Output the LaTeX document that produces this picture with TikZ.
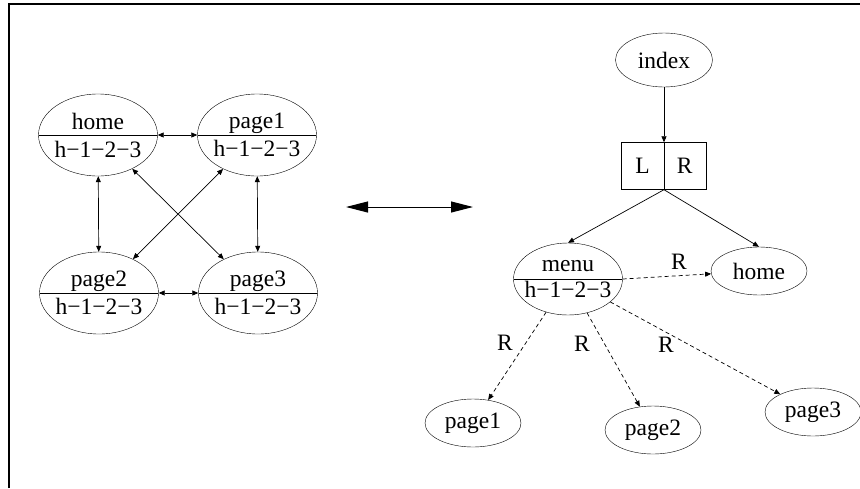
\documentclass[tikz,border=0pt]{standalone}
\usepackage{fontspec}
\setmainfont{Liberation Serif}
\usetikzlibrary{positioning,
        shapes,
        arrows.meta}

\begin{document}
\begin{tikzpicture}[x=1pt,y=-1pt,
        every node/.style={font=\fontsize{23.5}{25}\selectfont},
        page/.style={ellipse,draw,inner sep=0pt,minimum width=96pt,minimum height=48pt},
        split/.style={ellipse,draw,inner ysep=0pt,inner xsep=-7pt,align=center,minimum width=119pt,minimum height=82pt,
                path picture={\draw (path picture bounding box.west) -- (path picture bounding box.east);}},
        tip/.style={-{Triangle[length=6pt,width=5pt]},line width=0.7pt},
        tips/.style={{Triangle[length=6pt,width=5pt]}-{Triangle[length=6pt,width=5pt]},line width=0.7pt},
        dash line/.style={tip,dash pattern=on 4pt off 3pt},
        lab/.style={inner sep=0pt}]
        \useasboundingbox (0,0) rectangle (860,488);
        \draw[line width=1.8pt] (9,488) -- (9,4) -- (860,4);

        \node [split] (home) at (98,135) {home\\[3pt]h−1−2−3};
        \node [split] (page1) at (257,135) {page1\\[3pt]h−1−2−3};
        \node [split] (page2) at (99,293) {page2\\[3pt]h−1−2−3};
        \node [split] (page3) at (258,293) {page3\\[3pt]h−1−2−3};

        \draw[tips] (home) -- (page1);
        \draw[tips] (page2) -- (page3);
        \draw[tips] (home) -- (page2);
        \draw[tips] (page1) -- (page3);
        \draw[tips] (home) -- (page3);
        \draw[tips] (page1) -- (page2);

        \coordinate (from) at (346,207);
        \coordinate (to) at (473,207);
        \draw[{Triangle[length=22pt,width=11pt]}-{Triangle[length=22pt,width=11pt]},line width=1pt] (from) -- (to);

        \node [page,minimum width=97pt,minimum height=54pt] (index) at (664,60) {index};
        \node [draw,inner sep=0pt,minimum width=85pt,minimum height=47pt,
                path picture={\draw (path picture bounding box.north) -- (path picture bounding box.south);}]
                (lr) at (664,166) {L\hspace{27pt}R};
        \node [split,minimum width=109pt,minimum height=72pt] (menu) at (568,279) {menu\\[1pt]h−1−2−3};
        \node [page] (hm) at (759,271) {home};
        \node [page] (p1) at (473,423) {page1};
        \node [page] (p2) at (653,430) {page2};
        \node [page] (p3) at (813,412) {page3};

        \draw[tip] (index.south -| lr.north) -- (lr.north);
        \draw[tip] (lr.south) -- (menu.north);
        \draw[tip] (lr.south) -- (hm.north);
        \draw[dash line] (menu.east) -- (hm);
        \draw[dash line] (menu) -- (p1);
        \draw[dash line] (menu) -- (p2);
        \draw[dash line] (menu) -- (p3);

        \node [lab] (r0) at (679,262) {R};
        \node [lab] (r1) at (505,343) {R};
        \node [lab] (r2) at (582,344) {R};
        \node [lab] (r3) at (666,345) {R};
    \end{tikzpicture}
\end{document}
